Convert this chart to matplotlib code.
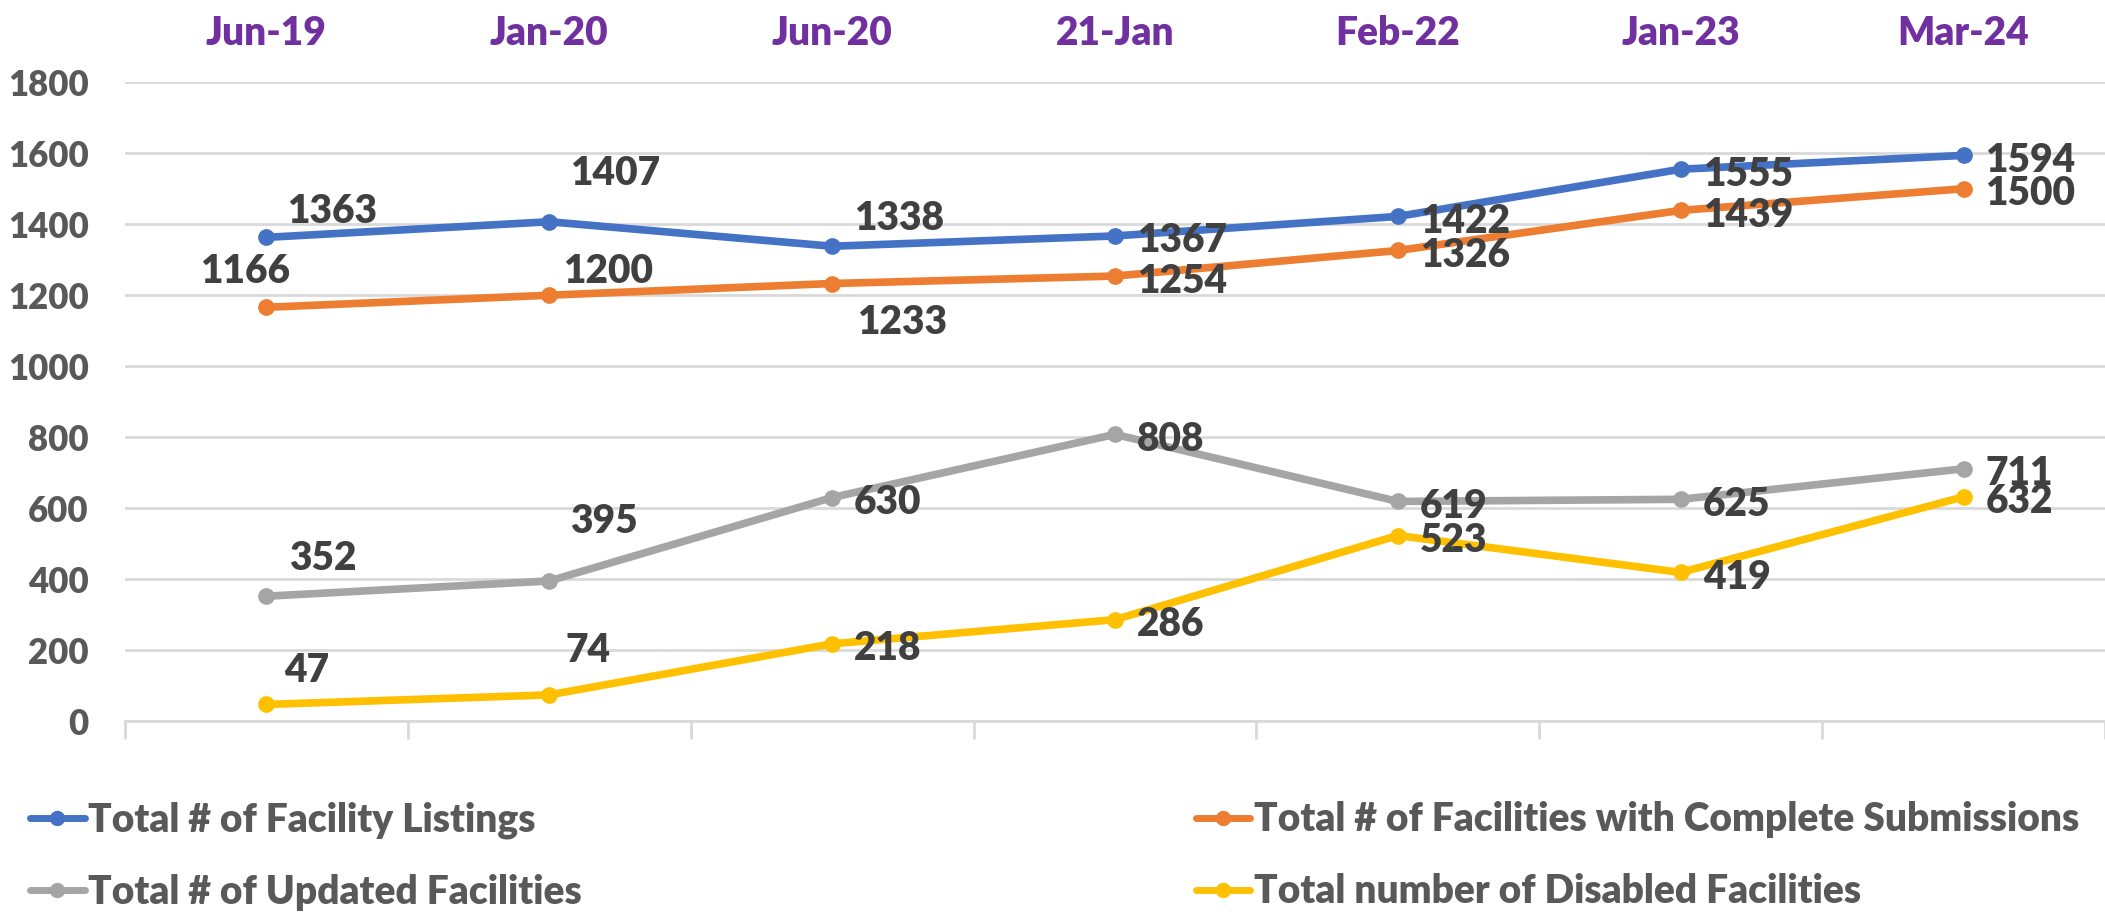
import numpy as np
import matplotlib.pyplot as plt

plt.rcParams['font.family'] = ['Lato', 'DejaVu Sans']
plt.rcParams['font.weight'] = 'bold'

periods = ['Jun-19', 'Jan-20', 'Jun-20', '21-Jan', 'Feb-22', 'Jan-23', 'Mar-24']

listings = [1363, 1407, 1338, 1367, 1422, 1555, 1594]
complete = [1166, 1200, 1233, 1254, 1326, 1439, 1500]
updated = [352, 395, 630, 808, 619, 625, 711]
disabled = [47, 74, 218, 286, 523, 419, 632]

names = ['Total # of Facility Listings',
         'Total # of Facilities with Complete Submissions',
         'Total # of Updated Facilities',
         'Total number of Disabled Facilities']
colors = ['#4472C4', '#ED7D31', '#A5A5A5', '#FFC000']

# label placement (pixel offsets from point, label centred); None -> right of point
R = None
offsets = [
    [(66, 26), (66, 48), (67, 28), R, R, R, R],
    [(-21, 36), (59, 24), (70, -39), R, R, R, R],
    [(56, 38), (55, 59), R, R, R, R, R],
    [(40, 34), (39, 44), R, R, R, R, R],
]

W = 'heavy'

fig = plt.figure(figsize=(21.05, 9.14), dpi=100)
ax = fig.add_axes([0.0594, 0.211, 0.9406, 0.699])

x = np.arange(1, len(periods) + 1)
series = [listings, complete, updated, disabled]
lines = []
for vals, c, name, offs in zip(series, colors, names, offsets):
    ln, = ax.plot(x, vals, color=c, lw=5.5, marker='o', ms=11, label=name,
                  solid_capstyle='round', zorder=3)
    lines.append(ln)
    for xi, v, off in zip(x, vals, offs):
        if off is None:
            ax.annotate(str(v), (xi, v), xytext=(22, -5), textcoords='offset pixels',
                        ha='left', va='center', fontsize=28, color='#404040',
                        fontweight=W, zorder=4)
        else:
            ax.annotate(str(v), (xi, v), xytext=off, textcoords='offset pixels',
                        ha='center', va='center', fontsize=28, color='#404040',
                        fontweight=W, zorder=4)

ax.set_xlim(0.5, len(periods) + 0.5)
ax.set_ylim(0, 1800)
ax.set_yticks(np.arange(0, 1801, 200))
ax.grid(axis='y', color='#D9D9D9', lw=2)
ax.set_axisbelow(True)
for s in ['left', 'right', 'top']:
    ax.spines[s].set_visible(False)
ax.spines['bottom'].set_color('#D9D9D9')
ax.spines['bottom'].set_linewidth(2)

ax.tick_params(axis='y', length=0, pad=26, labelsize=25, labelcolor='#595959')
for t in ax.get_yticklabels():
    t.set_fontweight(W)

ax.set_xticks(x)
ax.set_xticklabels(periods, fontsize=28, color='#7030A0', fontweight=W)
ax.tick_params(axis='x', which='major', bottom=False, top=False,
               labelbottom=False, labeltop=True, pad=18)
ax.set_xticks(np.arange(0.5, len(periods) + 1), minor=True)
ax.tick_params(axis='x', which='minor', bottom=True, length=13, width=2,
               color='#D9D9D9')

leg_kw = dict(frameon=False, fontsize=28, labelcolor='#595959', handlelength=1.4,
              handletextpad=0.1, labelspacing=0.9, borderaxespad=0, borderpad=0)
leg1 = fig.legend([lines[0], lines[2]], [names[0], names[2]],
                  loc='center left', bbox_to_anchor=(0.0143, 0.0635), **leg_kw)
leg2 = fig.legend([lines[1], lines[3]], [names[1], names[3]],
                  loc='center left', bbox_to_anchor=(0.568, 0.0635), **leg_kw)
for leg in (leg1, leg2):
    for t in leg.get_texts():
        t.set_fontweight(W)
    for h in leg.legend_handles:
        h.set_markersize(10)
        h.set_linewidth(5)

fig.savefig('out.png', dpi=100)
